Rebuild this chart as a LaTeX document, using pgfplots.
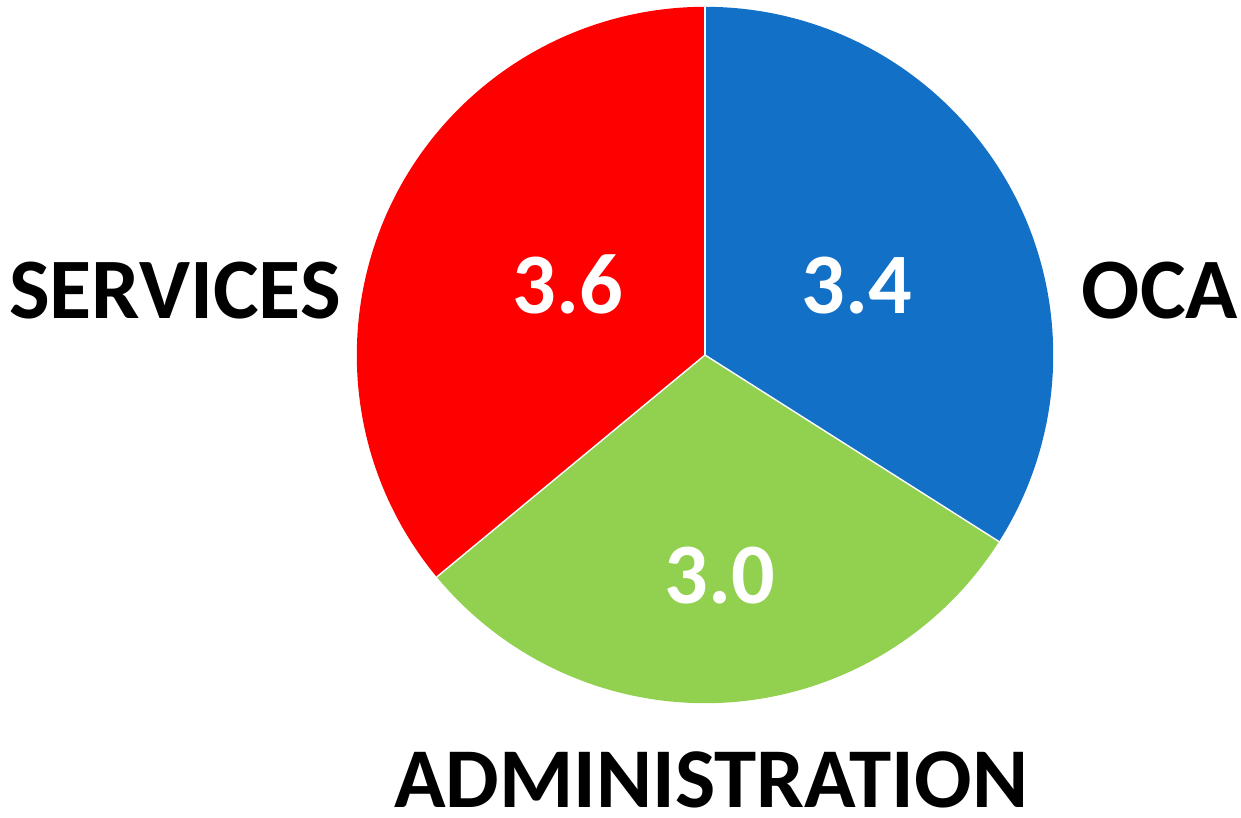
\documentclass[border=0pt]{standalone}
\usepackage{pgfplots}
\usepackage{pgfplotstable}
\pgfplotsset{compat=1.18}
\usepackage{fontspec}
\setmainfont{Carlito}
\definecolor{ocablue}{HTML}{1270C6}
\definecolor{admgreen}{HTML}{92D050}
\definecolor{servred}{HTML}{FF0000}
\pgfplotstableread{
label value
OCA 3.4
ADMINISTRATION 3.0
SERVICES 3.6
}\piedata
\begin{document}
\begin{tikzpicture}
\pgfplotstablegetelem{0}{value}\of\piedata \let\va\pgfplotsretval
\pgfplotstablegetelem{1}{value}\of\piedata \let\vb\pgfplotsretval
\pgfplotstablegetelem{2}{value}\of\piedata \let\vc\pgfplotsretval
\pgfmathsetmacro\tot{\va+\vb+\vc}
\pgfmathsetmacro\aA{90}
\pgfmathsetmacro\aB{90-360*\va/\tot}
\pgfmathsetmacro\aC{\aB-360*\vb/\tot}
\pgfmathsetmacro\aD{\aC-360*\vc/\tot}
\begin{axis}[
  x=0.01cm, y=0.01cm,
  xmin=0, xmax=1241, ymin=0, ymax=817,
  hide axis, clip=false,
]
\addplot[draw=none] coordinates {(0,0) (1241,817)};
\fill[ocablue] (axis cs:705,462) -- ++(\aA:3.48cm) arc[start angle=\aA, end angle=\aB, radius=3.48cm] -- cycle;
\fill[admgreen] (axis cs:705,462) -- ++(\aB:3.48cm) arc[start angle=\aB, end angle=\aC, radius=3.48cm] -- cycle;
\fill[servred] (axis cs:705,462) -- ++(\aC:3.48cm) arc[start angle=\aC, end angle=\aD, radius=3.48cm] -- cycle;
\draw[white, line width=0.4pt] (axis cs:705,462) -- ++(\aA:3.48cm);
\draw[white, line width=0.4pt] (axis cs:705,462) -- ++(\aB:3.48cm);
\draw[white, line width=0.4pt] (axis cs:705,462) -- ++(\aC:3.48cm);
\tikzset{lbl/.style={inner sep=0pt, anchor=base, font=\fontsize{24.5}{28}\selectfont\bfseries}}
\node[lbl, white] at (axis cs:857,504) {\va};
\node[lbl, white] at (axis cs:568,504) {\vc};
\node[lbl, white] at (axis cs:720,214) {\vb};
\node[lbl, black] at (axis cs:175,499) {SERVICES};
\node[lbl, black] at (axis cs:1160,499) {OCA};
\node[lbl, black, font=\fontsize{24.2}{28}\selectfont\bfseries] at (axis cs:711,10) {ADMINISTRATION};
\end{axis}
\end{tikzpicture}
\end{document}
